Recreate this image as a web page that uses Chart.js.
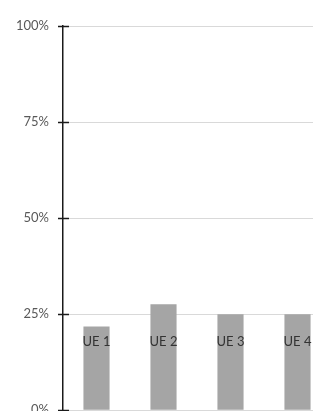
<!DOCTYPE html>
<html>
<head>
<meta charset="utf-8">
<script src="https://cdn.jsdelivr.net/npm/chart.js@4"></script>
<style>
  html, body { margin: 0; padding: 0; overflow: hidden; background: #fff; }
  canvas { display: block; }
</style>
</head>
<body>
<canvas id="chart" width="331" height="432"></canvas>
<script>
// categories and values (fractions of 1)
const categories = ['UE 1', 'UE 2', 'UE 3', 'UE 4'];
const shares = [0.218, 0.276, 0.25, 0.25];
const yTicks = [0, 0.25, 0.5, 0.75, 1];

// labels sit inside the bars, at a fixed height above the base
const insideLabels = {
    id: 'insideLabels',
    afterDatasetsDraw(chart) {
        const ctx = chart.ctx;
        const meta = chart.getDatasetMeta(0);
        const base = chart.chartArea.bottom;
        ctx.save();
        ctx.font = '13px Lato';
        ctx.fillStyle = '#333333';
        ctx.textAlign = 'center';
        ctx.textBaseline = 'middle';
        meta.data.forEach((bar, i) => {
            ctx.fillText(categories[i], bar.x, base - 68);
        });
        ctx.restore();
    },
    // excel style crossing tick marks on the value axis
    afterDraw(chart) {
        const ctx = chart.ctx;
        const y = chart.scales.y;
        const x0 = chart.chartArea.left;
        ctx.save();
        ctx.strokeStyle = '#1a1a1a';
        ctx.lineWidth = 1.5;
        y.ticks.forEach(t => {
            const py = Math.round(y.getPixelForValue(t.value)) + 0.5;
            ctx.beginPath();
            ctx.moveTo(x0 - 5, py);
            ctx.lineTo(x0 + 6, py);
            ctx.stroke();
        });
        ctx.restore();
    }
};

new Chart(document.getElementById('chart'), {
    type: 'bar',
    data: {
        labels: categories,
        datasets: [{
            data: shares,
            backgroundColor: '#a5a5a5',
            borderWidth: 0,
            categoryPercentage: 1,
            barPercentage: 0.39
        }]
    },
    options: {
        responsive: false,
        animation: false,
        layout: { padding: { top: 26, right: 0, bottom: 0, left: 0 } },
        plugins: {
            legend: { display: false },
            tooltip: { enabled: false }
        },
        scales: {
            x: { display: false },
            y: {
                min: 0,
                max: 1,
                afterFit(scale) { scale.width = 63; },
                afterBuildTicks(scale) { scale.ticks = yTicks.map(v => ({ value: v })); },
                grid: { color: '#d9d9d9', lineWidth: 1, drawTicks: false },
                border: { display: true, color: '#1a1a1a', width: 1.5 },
                ticks: {
                    padding: 14,
                    color: '#595959',
                    font: { family: 'Lato', size: 13 },
                    callback: v => Math.round(v * 100) + '%'
                }
            }
        }
    },
    plugins: [insideLabels]
});
</script>
</body>
</html>
